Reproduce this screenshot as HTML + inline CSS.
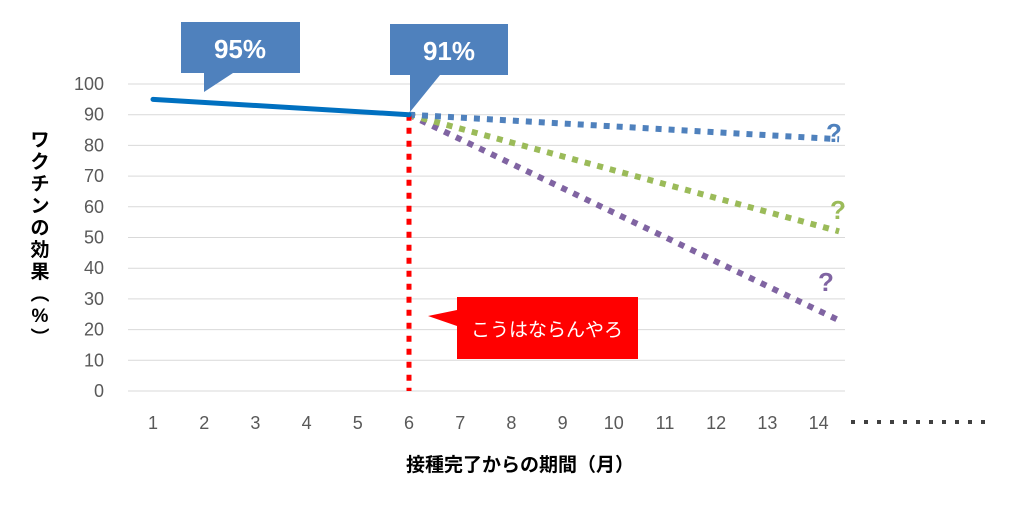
<!DOCTYPE html>
<html><head><meta charset="utf-8"><style>
body{margin:0;background:#fff;font-family:"Liberation Sans","Noto Sans CJK JP",sans-serif}
</style></head><body>
<svg width="1024" height="505" xmlns="http://www.w3.org/2000/svg" font-family="Liberation Sans, Noto Sans CJK JP, sans-serif">
<g id="grid"></g><g id="yticks"></g><g id="xticks"></g><g id="series"></g>
<text font-size="19" font-weight="bold" fill="#000" text-anchor="middle">
<tspan x="40" y="146">ワ</tspan><tspan x="40" y="168">ク</tspan><tspan x="40" y="190">チ</tspan><tspan x="40" y="212">ン</tspan><tspan x="40" y="234">の</tspan><tspan x="40" y="256">効</tspan><tspan x="40" y="278">果</tspan><tspan x="40" y="300">︵</tspan><tspan x="40" y="322">%</tspan><tspan x="40" y="344">︶</tspan></text>
<text x="520" y="471" font-size="19" font-weight="bold" text-anchor="middle">接種完了からの期間（月）</text>
<g id="dots" fill="#404040"></g>
<g><polygon points="181,22 300,22 300,73 233,73 204,92 204,73 181,73" fill="#4f81bd"/><text x="240" y="58" font-size="26" font-weight="bold" fill="#fff" text-anchor="middle">95%</text></g>
<g><polygon points="390,24 508,24 508,75 440,75 410,112 410,75 390,75" fill="#4f81bd"/><text x="449" y="60" font-size="26" font-weight="bold" fill="#fff" text-anchor="middle">91%</text></g>
<g><polygon points="457,297 638,297 638,359 457,359 457,326 428,316 457,310" fill="#ff0000"/><text x="547" y="336" font-size="19" fill="#fff" text-anchor="middle">こうはならんやろ</text></g>
<text x="834" y="142" font-size="26" font-weight="bold" fill="#4f81bd" text-anchor="middle">?</text>
<text x="838" y="219" font-size="26" font-weight="bold" fill="#9bbb59" text-anchor="middle">?</text>
<text x="826" y="291" font-size="26" font-weight="bold" fill="#8064a2" text-anchor="middle">?</text>
</svg>
<script>
const yTicks=[0,10,20,30,40,50,60,70,80,90,100];
const xCats=[1,2,3,4,5,6,7,8,9,10,11,12,13,14];
const actualX=[1,6]; const actualY=[95,90];
const blueX=[6,14.4]; const blueY=[90,82];
const greenX=[6,14.4]; const greenY=[90,52];
const purpleX=[6,14.4]; const purpleY=[90,23];
const redX=[6,6]; const redY=[90,0];
const NS="http://www.w3.org/2000/svg";
const sx=v=>153+(v-1)*51.2, sy=v=>391-v*3.07;
function mk(t,a,p){const e=document.createElementNS(NS,t);for(const k in a)e.setAttribute(k,a[k]);p.appendChild(e);return e;}
const g=document.getElementById('grid'),yt=document.getElementById('yticks'),xt=document.getElementById('xticks'),s=document.getElementById('series');
yTicks.forEach(v=>{const l=mk('line',{x1:128,x2:845,y1:sy(v),y2:sy(v),stroke:'#d9d9d9','stroke-width':1},g);


const t=mk('text',{x:104,y:sy(v)+6,'font-size':18,fill:'#595959','text-anchor':'end'},yt);t.textContent=v;

});
xCats.forEach(v=>{const t=mk('text',{x:sx(v),y:429,'font-size':18,fill:'#595959','text-anchor':'middle'},xt);t.textContent=v;

});
const d=document.getElementById('dots');
for(let i=0;i<11;i++){const r=mk('rect',{x:851+i*13,y:420,width:4,height:4},d);

}
function line(X,Y,col,w,dash,name){const e=mk('polyline',{points:X.map((x,i)=>sx(x)+','+sy(Y[i])).join(' '),fill:'none',stroke:col,'stroke-width':w,'stroke-dasharray':dash||'none','stroke-linecap':dash?'butt':'round'},s);

}
line(purpleX,purpleY,'#8064a2',6,'6,7','series-purple-pessimistic');
line(greenX,greenY,'#9bbb59',6,'6,7','series-green-moderate');
line(blueX,blueY,'#4f81bd',6,'6,7','series-blue-optimistic');
line(redX,redY,'#ff0000',5,'6,7','series-red-drop');
line(actualX,actualY,'#0070c0',5,null,'series-actual-efficacy');
</script>
</body></html>
